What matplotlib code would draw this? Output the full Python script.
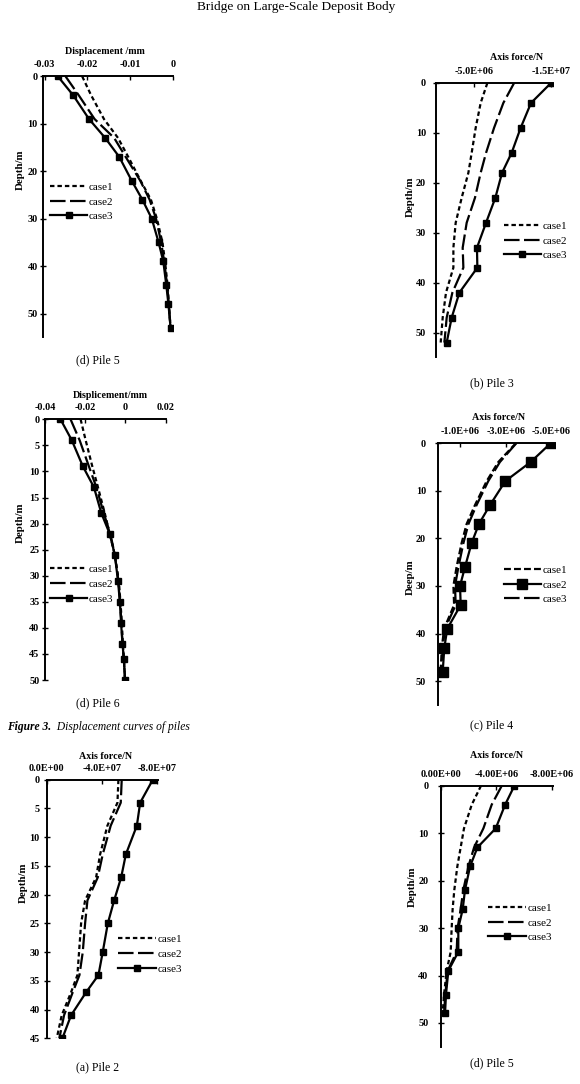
import matplotlib
matplotlib.use('Agg')
import matplotlib.pyplot as plt
from matplotlib.lines import Line2D

plt.rcParams['font.family'] = ['Liberation Serif', 'DejaVu Serif']

W, H = 580, 1084
fig = plt.figure(figsize=(5.8, 10.84), dpi=100)

# ---------------- data ----------------
# (1) Pile 5 displacement
p5d_depth = [0, 4, 9, 13, 17, 22, 26, 30, 35, 39, 44, 48, 53]
p5d_case1 = [-0.0212, -0.0191, -0.0161, -0.0128, -0.0104, -0.0075, -0.0051, -0.0037, -0.0024, -0.0018, -0.0012, -0.0009, -0.0005]
p5d_case2 = [-0.0251, -0.0220, -0.0183, -0.0137, -0.0110, -0.0076, -0.0054, -0.0039, -0.0027, -0.0020, -0.0013, -0.0009, -0.0005]
p5d_case3 = [-0.0269, -0.0233, -0.0196, -0.0158, -0.0125, -0.0096, -0.0071, -0.0049, -0.0033, -0.0022, -0.0015, -0.0010, -0.0005]

# (2) Pile 3 axis force
p3f_depth = [0, 4, 9, 14, 18, 23, 28, 33, 37, 42, 47, 52]
p3f_case1 = [-6.72e6, -5.85e6, -5.20e6, -4.68e6, -4.25e6, -3.38e6, -2.60e6, -2.30e6, -2.30e6, -1.34e6, -0.91e6, -0.65e6]
p3f_case2 = [-1.02e7, -8.80e6, -7.59e6, -6.55e6, -5.85e6, -5.11e6, -4.03e6, -3.51e6, -3.60e6, -2.17e6, -1.43e6, -1.13e6]
p3f_case3 = [-1.50e7, -1.24e7, -1.105e7, -9.88e6, -8.63e6, -7.76e6, -6.55e6, -5.37e6, -5.42e6, -3.08e6, -2.08e6, -1.43e6]

# (3) Pile 6 displacement
p6d_depth = [0, 4, 9, 13, 18, 22, 26, 31, 35, 39, 43, 46, 50]
p6d_case1 = [-0.0223, -0.0198, -0.0165, -0.0137, -0.0103, -0.0078, -0.0053, -0.0033, -0.0025, -0.0018, -0.0013, -0.0008, -0.0002]
p6d_case2 = [-0.0273, -0.0228, -0.0182, -0.0145, -0.0108, -0.0075, -0.0053, -0.0035, -0.0027, -0.0020, -0.0015, -0.0008, -0.0002]
p6d_case3 = [-0.0323, -0.0267, -0.0212, -0.0157, -0.0120, -0.0078, -0.0053, -0.0037, -0.0028, -0.0022, -0.0015, -0.0008, -0.0002]

# (4) Pile 4 axis force
p4f_depth = [0, 4, 8, 13, 17, 21, 26, 30, 34, 39, 43, 48]
p4f_case1 = [-3.44e6, -2.66e6, -2.15e6, -1.64e6, -1.27e6, -1.05e6, -0.83e6, -0.69e6, -0.72e6, -0.28e6, -0.18e6, -0.13e6]
p4f_case2 = [-4.97e6, -4.08e6, -2.97e6, -2.30e6, -1.81e6, -1.49e6, -1.20e6, -0.98e6, -1.01e6, -0.42e6, -0.29e6, -0.22e6]
p4f_case3 = [-3.46e6, -2.73e6, -2.22e6, -1.71e6, -1.35e6, -1.13e6, -0.91e6, -0.76e6, -0.79e6, -0.32e6, -0.22e6, -0.16e6]

# (5) Pile 2 axis force
p2f_depth = [0, 4, 8, 13, 17, 21, 25, 30, 34, 37, 41, 45]
p2f_case1 = [-5.21e7, -5.14e7, -4.41e7, -3.88e7, -3.59e7, -2.79e7, -2.50e7, -2.35e7, -2.23e7, -1.77e7, -1.09e7, -0.73e7]
p2f_case2 = [-5.45e7, -5.38e7, -4.65e7, -4.07e7, -3.71e7, -2.96e7, -2.79e7, -2.62e7, -2.38e7, -1.89e7, -1.26e7, -0.92e7]
p2f_case3 = [-7.71e7, -6.79e7, -6.55e7, -5.75e7, -5.41e7, -4.90e7, -4.44e7, -4.07e7, -3.76e7, -2.86e7, -1.77e7, -1.14e7]

# (6) Pile 5 axis force
p5f_depth = [0, 4, 9, 13, 17, 22, 26, 30, 35, 39, 44, 48]
p5f_case1 = [-2.89e6, -2.22e6, -1.66e6, -1.42e6, -1.18e6, -0.96e6, -0.84e6, -0.77e6, -0.70e6, -0.41e6, -0.22e6, -0.12e6]
p5f_case2 = [-4.39e6, -3.66e6, -3.06e6, -2.39e6, -1.98e6, -1.61e6, -1.42e6, -1.20e6, -1.13e6, -0.48e6, -0.31e6, -0.22e6]
p5f_case3 = [-5.30e6, -4.63e6, -3.95e6, -2.63e6, -2.10e6, -1.73e6, -1.57e6, -1.25e6, -1.25e6, -0.53e6, -0.36e6, -0.29e6]

case_labels = ['case1', 'case2', 'case3']

FS = 7.3      # tick labels
LFS = 8       # legend
AFS = 7.2     # axis labels
SHORT = (0, (2.0, 1.35))
MED = (0, (3.1, 1.4))
LONG = (0, (7.0, 2.0))
LW = 1.6
MS = 4.2


def px_ax(x0, x1, y0, y1):
    return fig.add_axes([x0 / W, 1 - y1 / H, (x1 - x0) / W, (y1 - y0) / H])


def style_ax(ax, xlim, ylim, xticks, xticklabels, yticks, ypad):
    ax.set_xlim(*xlim)
    ax.set_ylim(*ylim)
    ax.spines['right'].set_visible(False)
    ax.spines['bottom'].set_visible(False)
    for s in ('top', 'left'):
        ax.spines[s].set_linewidth(1.4)
    ax.xaxis.tick_top()
    ax.set_xticks(xticks)
    ax.set_xticklabels(xticklabels)
    ax.set_yticks(yticks)
    ax.set_yticklabels([str(v) for v in yticks])
    ax.tick_params(axis='x', direction='in', length=3, width=1, pad=5, labelsize=FS)
    ax.tick_params(axis='y', direction='inout', length=4, width=1, pad=ypad, labelsize=FS)
    for t in ax.get_xticklabels() + ax.get_yticklabels():
        t.set_fontweight('bold')
    ax.patch.set_alpha(0)


def add_legend(ax, handles, x, y):
    ax.legend(handles=handles, labels=case_labels, loc='upper left',
              bbox_to_anchor=(x / W, 1 - y / H), bbox_transform=fig.transFigure,
              frameon=False, fontsize=LFS, handlelength=3.35, handletextpad=0.15,
              borderpad=0, borderaxespad=0, labelspacing=0.45)


def labels(xlab, xl_pos, ylab, yl_pos):
    fig.text(xl_pos[0] / W, 1 - xl_pos[1] / H, xlab, ha='center', va='center',
             fontsize=AFS, fontweight='bold')
    fig.text(yl_pos[0] / W, 1 - yl_pos[1] / H, ylab, ha='center', va='center',
             fontsize=AFS + 0.6, fontweight='bold', rotation=90)


def std_handles(ms=MS):
    return [Line2D([], [], color='black', lw=LW, linestyle=SHORT),
            Line2D([], [], color='black', lw=LW, linestyle=LONG),
            Line2D([], [], color='black', lw=LW, marker='s', markersize=ms)]


# ---- Panel 1 : Pile 5 displacement ----
ax1 = px_ax(43.3, 172.7, 76.3, 337.3)
ax1.plot(p5d_case1, p5d_depth, color='black', lw=LW, linestyle=SHORT)
ax1.plot(p5d_case2, p5d_depth, color='black', lw=LW, linestyle=LONG)
ax1.plot(p5d_case3, p5d_depth, color='black', lw=LW, marker='s', markersize=MS)
style_ax(ax1, (-0.0303, 0), (55, 0), [-0.03, -0.02, -0.01, 0],
         ['-0.03', '-0.02', '-0.01', '0'], [0, 10, 20, 30, 40, 50], 2)
add_legend(ax1, std_handles(), 50, 182)
labels('Displacement /mm', (105, 52), 'Depth/m', (20.5, 170))

# ---- Panel 2 : Pile 3 axis force ----
ax2 = px_ax(435.7, 553.3, 83, 357.5)
ax2.plot(p3f_case1, p3f_depth, color='black', lw=LW, linestyle=SHORT)
ax2.plot(p3f_case2, p3f_depth, color='black', lw=LW, linestyle=LONG)
ax2.plot(p3f_case3, p3f_depth, color='black', lw=LW, marker='s', markersize=MS)
style_ax(ax2, (0, -1.53e7), (55, 0), [-5e6, -1.5e7],
         ['-5.0E+06', '-1.5E+07'], [0, 10, 20, 30, 40, 50], 5)
add_legend(ax2, std_handles(), 503.5, 221)
labels('Axis force/N', (516.7, 57.5), 'Depth/m', (410.5, 197))

# ---- Panel 3 : Pile 6 displacement ----
ax3 = px_ax(45, 165.7, 419.3, 680)
ax3.plot(p6d_case1, p6d_depth, color='black', lw=LW, linestyle=SHORT)
ax3.plot(p6d_case2, p6d_depth, color='black', lw=LW, linestyle=LONG)
ax3.plot(p6d_case3, p6d_depth, color='black', lw=LW, marker='s', markersize=MS)
style_ax(ax3, (-0.04, 0.02), (50, 0), [-0.04, -0.02, 0, 0.02],
         ['-0.04', '-0.02', '0', '0.02'], list(range(0, 51, 5)), 2)
add_legend(ax3, std_handles(), 50, 564.5)
labels('Displicement/mm', (110, 395), 'Depth/m', (20, 523))

# ---- Panel 4 : Pile 4 axis force ----
ax4 = px_ax(437.7, 555, 443, 705)
ax4.plot(p4f_case1, p4f_depth, color='black', lw=LW, linestyle=MED)
ax4.plot(p4f_case3, p4f_depth, color='black', lw=LW, linestyle=LONG)
ax4.plot(p4f_case2, p4f_depth, color='black', lw=LW, marker='s', markersize=7)
style_ax(ax4, (0, -5.15e6), (55, 0), [-1e6, -3e6, -5e6],
         ['-1.0E+06', '-3.0E+06', '-5.0E+06'], [0, 10, 20, 30, 40, 50], 6.5)
h4 = [Line2D([], [], color='black', lw=LW, linestyle=MED),
      Line2D([], [], color='black', lw=LW, marker='s', markersize=7),
      Line2D([], [], color='black', lw=LW, linestyle=LONG)]
add_legend(ax4, h4, 503.5, 565)
labels('Axis force/N', (499, 417), 'Deep/m', (410.5, 577))

# ---- Panel 5 : Pile 2 axis force ----
ax5 = px_ax(46.7, 157.5, 779.7, 1038.3)
ax5.plot(p2f_case1, p2f_depth, color='black', lw=LW, linestyle=SHORT)
ax5.plot(p2f_case2, p2f_depth, color='black', lw=LW, linestyle=LONG)
ax5.plot(p2f_case3, p2f_depth, color='black', lw=LW, marker='s', markersize=MS)
style_ax(ax5, (0, -8.05e7), (45, 0), [0, -4e7, -8e7],
         ['0.0E+00', '-4.0E+07', '-8.0E+07'], list(range(0, 46, 5)), 3)
add_legend(ax5, std_handles(), 118.3, 934.5)
labels('Axis force/N', (106, 756.7), 'Depth/m', (23.3, 883))

# ---- Panel 6 : Pile 5 axis force ----
ax6 = px_ax(441, 552.5, 785.7, 1046.7)
ax6.plot(p5f_case1, p5f_depth, color='black', lw=LW, linestyle=SHORT)
ax6.plot(p5f_case2, p5f_depth, color='black', lw=LW, linestyle=LONG)
ax6.plot(p5f_case3, p5f_depth, color='black', lw=LW, marker='s', markersize=MS)
style_ax(ax6, (0, -8.05e6), (55, 0), [0, -4e6, -8e6],
         ['0.00E+00', '-4.00E+06', '-8.00E+06'], [0, 10, 20, 30, 40, 50], 7)
add_legend(ax6, std_handles(), 488.3, 903)
labels('Axis force/N', (496.7, 755), 'Depth/m', (412.5, 887))

# ---- captions & header ----
def cap(x, y, s, **kw):
    fig.text(x / W, 1 - y / H, s, ha='center', va='center', fontsize=8.5, **kw)

fig.text(296 / W, 1 - 7 / H, 'Bridge on Large-Scale Deposit Body', ha='center',
         va='center', fontsize=9.6)
cap(98, 360, '(d) Pile 5')
cap(491.7, 383, '(b) Pile 3')
cap(98, 703, '(d) Pile 6')
cap(491.7, 725, '(c) Pile 4')
cap(98, 1067, '(a) Pile 2')
cap(491.7, 1063, '(d) Pile 5')
fig.text(7 / W, 1 - 727 / H, 'Figure 3.', ha='left', va='center', fontsize=8.3,
         fontweight='bold', style='italic')
fig.text(54 / W, 1 - 727 / H, ' Displacement curves of piles', ha='left', va='center',
         fontsize=8.3, style='italic')

fig.savefig('out.png', dpi=100)
